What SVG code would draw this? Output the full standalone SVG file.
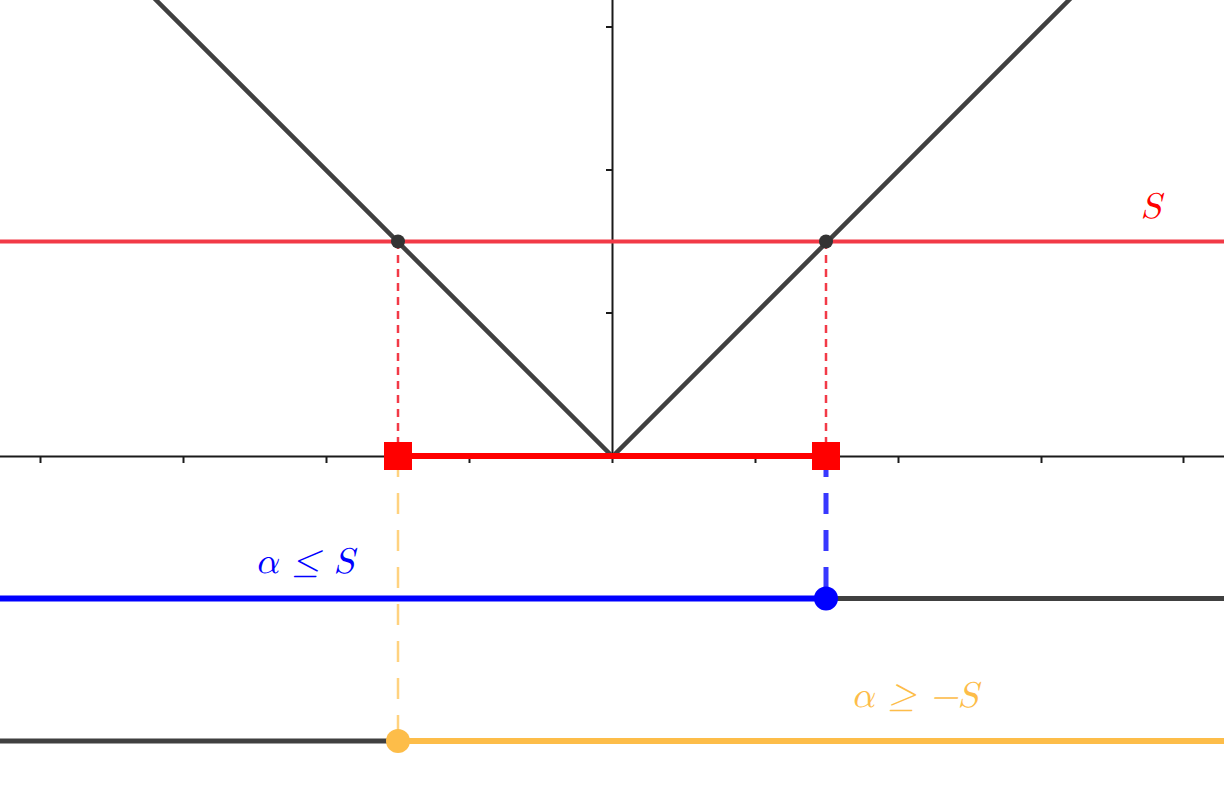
<svg xmlns="http://www.w3.org/2000/svg" width="1224" height="810" viewBox="0 0 1224 810">
<style>
.axis{stroke:#1a1a1a;stroke-width:2;fill:none}
.tick{stroke:#1a1a1a;stroke-width:2}
.dark{stroke:#404040;stroke-width:4.5;fill:none;stroke-linecap:butt}
.lbl{font-family:"Latin Modern Math","DejaVu Serif","Liberation Serif",serif;font-style:italic;font-size:36px}
</style>
<rect width="1224" height="810" fill="#ffffff"/>
<g id="axes">
<line class="axis" x1="0" y1="456.5" x2="1224" y2="456.5"/>
<line class="axis" x1="612.5" y1="0" x2="612.5" y2="456.5"/>
<g class="tick">
<line x1="40.5" y1="456" x2="40.5" y2="463"/>
<line x1="183.5" y1="456" x2="183.5" y2="463"/>
<line x1="326.5" y1="456" x2="326.5" y2="463"/>
<line x1="469.5" y1="456" x2="469.5" y2="463"/>
<line x1="612.5" y1="456" x2="612.5" y2="463"/>
<line x1="755.5" y1="456" x2="755.5" y2="463"/>
<line x1="898.5" y1="456" x2="898.5" y2="463"/>
<line x1="1041.5" y1="456" x2="1041.5" y2="463"/>
<line x1="1183.5" y1="456" x2="1183.5" y2="463"/>
<line x1="606" y1="27" x2="612" y2="27"/>
<line x1="606" y1="170" x2="612" y2="170"/>
<line x1="606" y1="313" x2="612" y2="313"/>
</g>
</g>
<g id="connectors">
<line x1="0" y1="241.5" x2="1224" y2="241.5" stroke="#f23a47" stroke-width="4"/>
<polyline class="dark" points="154,-2 612.5,456.5 1071,-2"/>
<line x1="398" y1="241" x2="398" y2="456" stroke="#f23a47" stroke-width="2.5" stroke-dasharray="8,6"/>
<line x1="826" y1="241" x2="826" y2="456" stroke="#f23a47" stroke-width="2.5" stroke-dasharray="8,6"/>
<line x1="398" y1="456" x2="826" y2="456" stroke="#ff0000" stroke-width="6"/>
<line x1="398" y1="456" x2="398" y2="741" stroke="#ffd27f" stroke-width="2.5" stroke-dasharray="21,16"/>
<line x1="826" y1="456" x2="826" y2="598" stroke="#3838ff" stroke-width="5" stroke-dasharray="21,16"/>
<line x1="0" y1="598.5" x2="826" y2="598.5" stroke="#0000ff" stroke-width="6"/>
<line x1="826" y1="598.5" x2="1224" y2="598.5" stroke="#404040" stroke-width="5"/>
<line x1="0" y1="741" x2="398" y2="741" stroke="#404040" stroke-width="5"/>
<line x1="398" y1="741" x2="1224" y2="741" stroke="#fdbd49" stroke-width="6"/>
</g>
<g id="point-left-top"><circle cx="398" cy="241.5" r="7" fill="#333333"/></g>
<g id="point-right-top"><circle cx="826" cy="241.5" r="7" fill="#333333"/></g>
<g id="square-left"><rect x="384" y="442" width="28" height="28" fill="#ff0000"/></g>
<g id="square-right"><rect x="812" y="442" width="28" height="28" fill="#ff0000"/></g>
<g id="dot-blue"><circle cx="826" cy="598.5" r="12" fill="#0000ff"/></g>
<g id="dot-yellow"><circle cx="398" cy="741" r="12" fill="#fdbd49"/></g>
<g id="labels">
<text class="lbl" x="1141" y="218" fill="#ff0000">S</text>
<text class="lbl" x="255" y="573" fill="#0000ff" word-spacing="2">α ≤ S</text>
<text class="lbl" x="851" y="707" fill="#fdbd49" word-spacing="2">α ≥ −S</text>
</g>
</svg>
